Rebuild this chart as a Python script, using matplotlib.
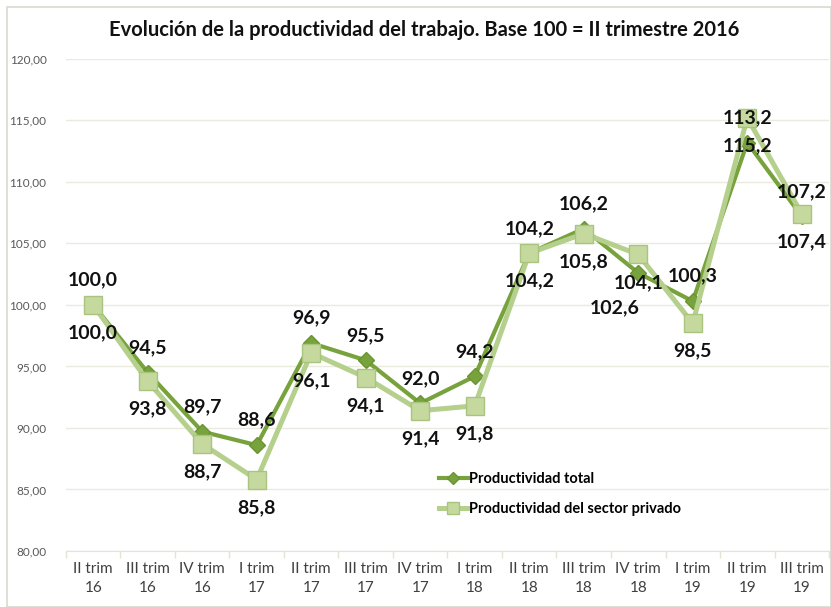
import matplotlib.pyplot as plt
import numpy as np
from matplotlib.patches import Rectangle

plt.rcParams['font.family'] = ['Lato', 'DejaVu Sans']

quarters = ['II trim\n16', 'III trim\n16', 'IV trim\n16', 'I trim\n17', 'II trim\n17',
            'III trim\n17', 'IV trim\n17', 'I trim\n18', 'II trim\n18', 'III trim\n18',
            'IV trim\n18', 'I trim\n19', 'II trim\n19', 'III trim\n19']
total = [100.0, 94.5, 89.7, 88.6, 96.9, 95.5, 92.0, 94.2, 104.2, 106.2, 102.6, 100.3, 113.2, 107.2]
privado = [100.0, 93.8, 88.7, 85.8, 96.1, 94.1, 91.4, 91.8, 104.2, 105.8, 104.1, 98.5, 115.2, 107.4]

c_dark = '#77A23C'
c_light = '#B5CF8C'
c_sq = '#C5D99E'

fig = plt.figure(figsize=(8.31, 6.07), dpi=100)
ax = fig.add_axes([0.0794, 0.0923, 0.9182, 0.8107])

# chart border
fig.patches.append(Rectangle((7/831, 0), 1 - 7/831, 1 - 7/607, transform=fig.transFigure,
                             fill=False, edgecolor='#D9D9D0', linewidth=1.2))

x = np.arange(len(quarters))
ax.plot(x, total, color=c_dark, lw=3.0, marker='D', ms=8.5, mfc=c_dark, mec='#6A9433',
        label='Productividad total', zorder=3)
ax.plot(x, privado, color=c_light, lw=3.6, marker='s', ms=12.5, mfc=c_sq, mec='#A9C47F',
        label='Productividad del sector privado', zorder=4)

def fmt(v):
    return ('%.1f' % v).replace('.', ',')

for i, v in enumerate(total):
    off = (0, 18)
    if i == 10:
        off = (-17, -25)
    ax.annotate(fmt(v), (i, v), xytext=off, textcoords='offset points', ha='center',
                va='center', fontsize=14, fontweight='bold', color='#111111', zorder=6)
for i, v in enumerate(privado):
    ax.annotate(fmt(v), (i, v), xytext=(0, -20), textcoords='offset points', ha='center',
                va='center', fontsize=14, fontweight='bold', color='#111111', zorder=6)

ax.set_xlim(-0.5, 13.5)
ax.set_ylim(80, 120)
ax.set_yticks(np.arange(80, 121, 5))
ax.set_yticklabels([('%.2f' % t).replace('.', ',') for t in np.arange(80, 121, 5)])
ax.set_xticks(x)
ax.set_xticklabels(quarters, linespacing=1.45)
ax.set_xticks(np.arange(-0.5, 14, 1), minor=True)
ax.tick_params(axis='x', which='major', length=0, labelsize=11, colors='#404040', pad=8)
ax.tick_params(axis='x', which='minor', length=5, color='#E3E3D6', width=1)
ax.tick_params(axis='y', length=0, labelsize=8.5, colors='#595959', pad=14)
ax.grid(axis='y', color='#EAEADF', lw=1)
ax.set_axisbelow(True)
for s in ['top', 'right', 'left']:
    ax.spines[s].set_visible(False)
ax.spines['bottom'].set_color('#E3E3D6')

fig.text(0.511, 0.950, 'Evolución de la productividad del trabajo. Base 100 = II trimestre 2016',
         ha='center', va='center', fontsize=14.5, fontweight='bold', color='#111111')

leg = ax.legend(loc='upper left', bbox_to_anchor=(0.481, 0.172), frameon=False,
                prop={'size': 10.5, 'weight': 'bold'}, handlelength=2.0, handletextpad=0.1,
                labelspacing=1.1, borderaxespad=0, markerscale=0.7)

plt.savefig('out.png', dpi=100)
